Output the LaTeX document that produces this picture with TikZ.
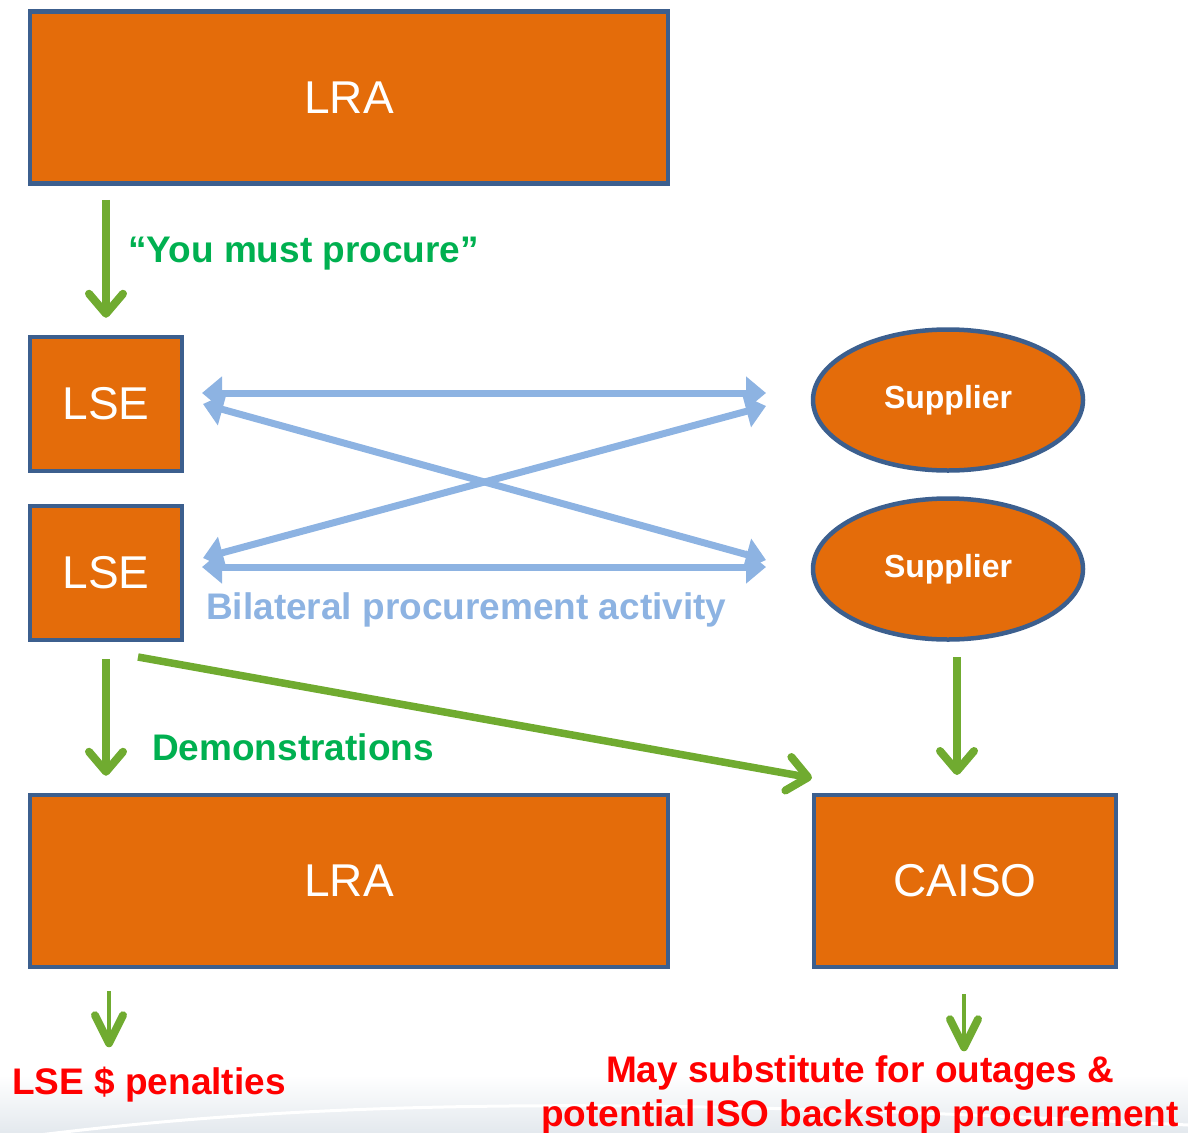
\documentclass[tikz,border=0pt]{standalone}
\usepackage{fontspec}
\setmainfont{Liberation Sans}
\usetikzlibrary{arrows.meta,shapes.geometric,calc}
\definecolor{orng}{HTML}{E46C0A}
\definecolor{boxblue}{HTML}{3C5F8E}
\definecolor{garrow}{HTML}{70AB30}
\definecolor{barrow}{HTML}{8DB3E2}
\definecolor{gtext}{HTML}{00B050}
\definecolor{rtext}{HTML}{FF0000}
\definecolor{bgray}{HTML}{E4E9EE}
\tikzset{
  box/.style={rectangle, draw=boxblue, line width=4.5pt, fill=orng, text=white,
    font=\fontsize{46}{50}\selectfont, inner sep=0pt},
  sup/.style={ellipse, draw=boxblue, line width=4.5pt, fill=orng, text=white,
    font=\bfseries\fontsize{32}{36}\selectfont, minimum width=270pt, minimum height=141pt, inner sep=0pt},
  garr/.style={draw=garrow, line width=7.5pt,
    -{Straight Barb[length=20pt,width=34pt,line width=8pt,round]}},
  gsmall/.style={draw=garrow, line width=4.5pt,
    -{Straight Barb[length=28pt,width=28pt,line width=8pt,round]}},
  barr/.style={draw=barrow, line width=7pt,
    {Triangle[length=20pt,width=32pt]}-{Triangle[length=20pt,width=32pt]}},
  glabel/.style={text=gtext, font=\bfseries\fontsize{37}{40}\selectfont, inner sep=0pt},
  blabel/.style={text=barrow, font=\bfseries\fontsize{37}{40}\selectfont, inner sep=0pt},
  rlabel/.style={text=rtext, font=\bfseries\fontsize{37}{44}\selectfont, inner sep=0pt, align=center},
}
\begin{document}
\begin{tikzpicture}[x=1pt,y=-1pt]
\useasboundingbox (0,0) rectangle (1188,1132);
% faint background swoosh
\shade[top color=white, bottom color=bgray] (0,1075) rectangle (1188,1132);
\draw[white, line width=3pt] (0,1140) .. controls (300,1100) and (600,1095) .. (1188,1125);

% nodes
\node[box, minimum width=638pt, minimum height=172pt] (lra1) at (349,97.5) {LRA};
\node[box, minimum width=152pt, minimum height=134pt] (lse1) at (106,404) {\raisebox{-2pt}{LSE}};
\node[box, minimum width=152pt, minimum height=134pt] (lse2) at (106,573) {\raisebox{-2pt}{LSE}};
\node[sup] (sup1) at (948,400) {\raisebox{-3pt}{Supplier}};
\node[sup] (sup2) at (948,569) {\raisebox{-3pt}{Supplier}};
\node[box, minimum width=638pt, minimum height=172pt] (lra2) at (349,881) {LRA};
\node[box, minimum width=302pt, minimum height=172pt] (caiso) at (965,881) {\raisebox{-1pt}{CAISO}};

% labels
\node[glabel, anchor=west] (must) at (128,254) {“You must procure”};
\node[blabel, anchor=west] (bil) at (206,610) {Bilateral procurement activity};
\node[glabel, anchor=west] (demo) at (152,747) {Demonstrations};
\node[rlabel, anchor=west] (pen) at (12,1085) {LSE \$ penalties};
\node[rlabel] (subst) at (860,1095) {May substitute for outages \&\\potential ISO backstop procurement};

% green arrows
\draw[garr] ($(lse1.north)+(0,-135)$) -- ($(lse1.north)+(0,-17)$);
\draw[garr] ($(lse2.south)+(0,17)$) -- ($(lra2.north -| lse2.south)+(0,-17)$);
\coordinate (dstart) at (138,657);
\coordinate (dend) at (812,778);
\draw[garr] (dstart) -- (dend);
\coordinate (s2a) at (957,657);
\coordinate (s2b) at (957,775);
\draw[garr] (s2a) -- (s2b);
\draw[gsmall] ($(lra2.south)+(-240,22)$) -- ($(lra2.south)+(-240,78)$);
\draw[gsmall] ($(caiso.south)+(-1,25)$) -- ($(caiso.south)+(-1,82)$);

% blue bilateral arrows
\coordinate (l1a) at (202,393);
\coordinate (r1a) at (766,393);
\coordinate (l1b) at (203,404);
\coordinate (r1b) at (766,406);
\coordinate (l2a) at (203,558);
\coordinate (r2a) at (766,560);
\coordinate (l2b) at (202,567);
\coordinate (r2b) at (766,567);
\draw[barr] (l1a) -- (r1a);
\draw[barr] (l1b) -- (r2a);
\draw[barr] (l2a) -- (r1b);
\draw[barr] (l2b) -- (r2b);
\end{tikzpicture}
\end{document}
